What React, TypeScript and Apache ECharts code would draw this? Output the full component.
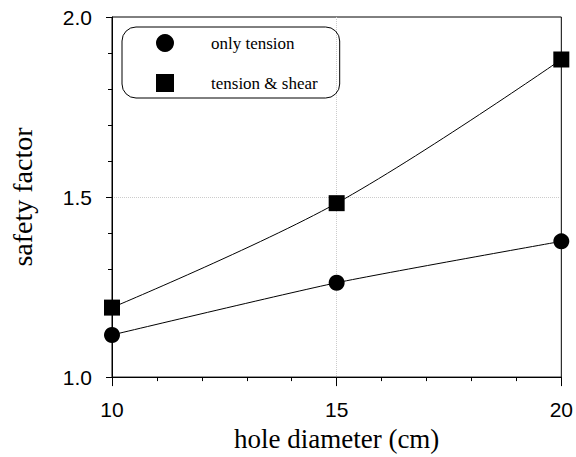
import React, { useEffect, useRef } from "react";
import * as echarts from "echarts";

const holeDiameter = [10, 15, 20];
const onlyTension = [1.117, 1.262, 1.377];
const tensionShear = [1.193, 1.483, 1.882];
const seriesNames = ["only tension", "tension & shear"];

export default function App() {
  const ref = useRef<HTMLDivElement>(null);
  useEffect(() => {
    document.body.style.margin = "0";
    if (!ref.current) return;
    const chart = echarts.init(ref.current, undefined, { renderer: "svg" });
    const serif = "'Liberation Serif', 'Times New Roman', serif";
    const sans = "'Liberation Sans', Arial, sans-serif";
    chart.setOption({
      animation: false,
      backgroundColor: "#fff",
      grid: {
        left: 110,
        right: 13,
        top: 17,
        bottom: 76,
        show: true,
        borderColor: "#000",
        borderWidth: 1,
      },
      legend: {
        orient: "vertical",
        left: 122,
        top: 27,
        padding: [7, 22, 6, 34],
        itemWidth: 18,
        itemHeight: 18,
        itemGap: 22,
        borderColor: "#000",
        borderWidth: 1,
        borderRadius: 14,
        selectedMode: false,
        textStyle: {
          fontFamily: serif,
          fontSize: 17,
          color: "#000",
          padding: [0, 0, 0, 32],
        },
        data: [
          { name: seriesNames[0], icon: "circle" },
          { name: seriesNames[1], icon: "rect" },
        ],
      },
      xAxis: {
        type: "value",
        min: 10,
        max: 20,
        interval: 5,
        name: "hole diameter (cm)",
        nameLocation: "middle",
        nameGap: 47,
        nameTextStyle: { fontFamily: serif, fontSize: 27, color: "#000" },
        axisLine: { show: true, lineStyle: { color: "#000", width: 1 } },
        axisTick: { show: true, length: 9, lineStyle: { color: "#000" } },
        minorTick: { show: true, splitNumber: 5, length: 4, lineStyle: { color: "#000" } },
        axisLabel: { fontFamily: sans, fontSize: 21, color: "#000", margin: 22 },
        splitLine: {
          show: true,
          showMinLine: false,
          showMaxLine: false,
          lineStyle: { color: "#ccc", type: "dotted", width: 1 },
        },
      },
      yAxis: {
        type: "value",
        min: 1,
        max: 2,
        interval: 0.5,
        name: "safety factor",
        nameLocation: "middle",
        nameGap: 76,
        nameTextStyle: { fontFamily: serif, fontSize: 28, color: "#000" },
        axisLine: { show: true, lineStyle: { color: "#000", width: 1 } },
        axisTick: { show: true, length: 6, lineStyle: { color: "#000" } },
        minorTick: { show: true, splitNumber: 5, length: 4, lineStyle: { color: "#000" } },
        axisLabel: {
          fontFamily: sans,
          fontSize: 21,
          color: "#000",
          margin: 20,
          formatter: (v: number) => v.toFixed(1),
        },
        splitLine: {
          show: true,
          showMinLine: false,
          showMaxLine: false,
          lineStyle: { color: "#ccc", type: "dotted", width: 1 },
        },
      },
      series: [
        {
          name: seriesNames[0],
          type: "line",
          data: holeDiameter.map((x, i) => [x, onlyTension[i]]),
          symbol: "circle",
          symbolSize: 16,
          smooth: 0.2,
          lineStyle: { color: "#000", width: 1 },
          itemStyle: { color: "#000" },
        },
        {
          name: seriesNames[1],
          type: "line",
          data: holeDiameter.map((x, i) => [x, tensionShear[i]]),
          symbol: "rect",
          symbolSize: 16,
          smooth: 0.35,
          lineStyle: { color: "#000", width: 1 },
          itemStyle: { color: "#000" },
        },
      ],
    });
    return () => chart.dispose();
  }, []);
  return <div ref={ref} style={{ width: 576, height: 457 }} />;
}
